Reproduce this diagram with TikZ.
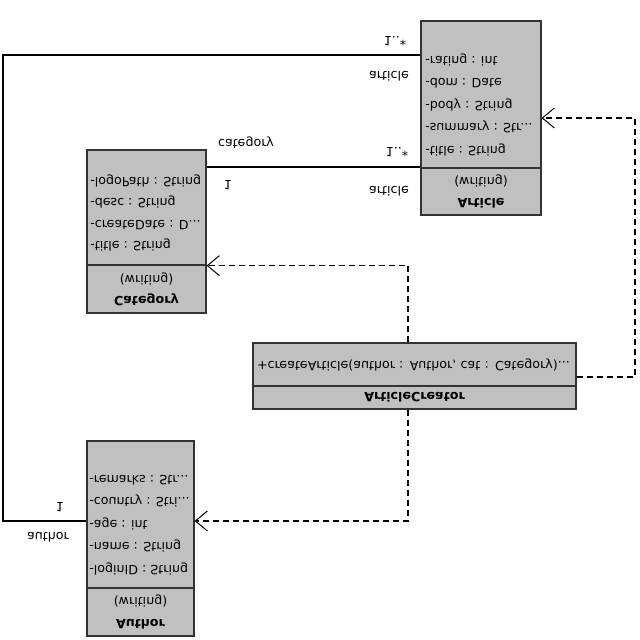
\documentclass[tikz,border=0pt]{standalone}
\usepackage{fontspec}
\setmainfont{DejaVu Sans}
\usepackage{xcolor}
\usepackage{tikz}
\usetikzlibrary{arrows.meta, positioning}
\definecolor{umlgray}{RGB}{192,192,192}

\begin{document}
\begin{tikzpicture}[x=0.25mm, y=0.25mm, yscale=-1, transform shape,
        comp/.style={rectangle, draw=black!80, line width=0.9pt, fill=umlgray, inner sep=0pt},
        head/.style={comp, align=center, font=\fontsize{9}{15}\selectfont},
        attrs/.style={anchor=north west, align=left, inner sep=0pt, font=\fontsize{9}{16}\selectfont},
        assoc/.style={line width=0.9pt},
        dep/.style={line width=0.9pt, dash pattern=on 1.5mm off 1mm, -{Straight Barb[length=3mm, width=5mm, line width=0.7pt]}},
        lbl/.style={font=\fontsize{9}{11}\selectfont, inner sep=0pt}
    ]
        \useasboundingbox (0,0) rectangle (640,640);

        % Article
        \node[comp, minimum width=30mm, minimum height=36.75mm] (artAttr) at (481,94.5) {};
        \node[head, minimum width=30mm, minimum height=11.75mm] (artHead) at (481,191.5) {\textbf{Article}\\(writing)};
        \node[attrs] (artList) at (425,156) {-title : String\\-summary : Str...\\-body : String\\-dom : Date\\-rating : int};

        % Category
        \node[comp, minimum width=29.75mm, minimum height=28.75mm] (catAttr) at (146.5,207.5) {};
        \node[head, minimum width=29.75mm, minimum height=12mm] (catHead) at (146.5,289) {\textbf{Category}\\(writing)};
        \node[attrs, font=\fontsize{9}{15}\selectfont] (catList) at (90,251) {-title : String\\-createDate : D...\\-desc : String\\-logoPath : String};

        % ArticleCreator
        \node[comp, minimum height=10.75mm, text width=78.75mm, inner xsep=1mm, align=left, font=\fontsize{9}{11}\selectfont] (creMeth) at (414.5,364.5) {+createArticle(author : Author, cat : Category)...};
        \node[head, minimum width=80.75mm, minimum height=5.75mm] (creHead) at (414.5,397.5) {\textbf{ArticleCreator}};

        % Author
        \node[comp, minimum width=26.75mm, minimum height=36.75mm] (authAttr) at (140.5,514.5) {};
        \node[head, minimum width=26.75mm, minimum height=12mm] (authHead) at (140.5,612) {\textbf{Author}\\(writing)};
        \node[attrs] (authList) at (89,575) {-loginID : String\\-name : String\\-age : int\\-country : Stri...\\-remarks : Str...};

        % Associations
        \draw[assoc] (artAttr.west |- 0,55) -| (3,521) -- (authAttr.west |- 0,521);
        \draw[assoc] (catAttr.east |- 0,167) -- (artAttr.west |- 0,167);

        % Dependencies
        \draw[dep] (408,0 |- creMeth.south) |- (catAttr.north east);
        \draw[dep] (408,0 |- creHead.north) |- (authAttr.east |- 0,521);
        \draw[dep] (creMeth.east |- 0,377) -- (635,377) |- (artAttr.east |- 0,118);

        % Labels
        \node[lbl] (multArt1) at (395,41) {1..*};
        \node[lbl] (roleArt1) at (389,76) {article};
        \node[lbl] (roleCat) at (246,143) {category};
        \node[lbl] (multArt2) at (397,152) {1..*};
        \node[lbl] (multCat) at (228,185) {1};
        \node[lbl] (roleArt2) at (389,191) {article};
        \node[lbl] (multAuth) at (60,507) {1};
        \node[lbl] (roleAuth) at (48,537) {author};
    \end{tikzpicture}
\end{document}
